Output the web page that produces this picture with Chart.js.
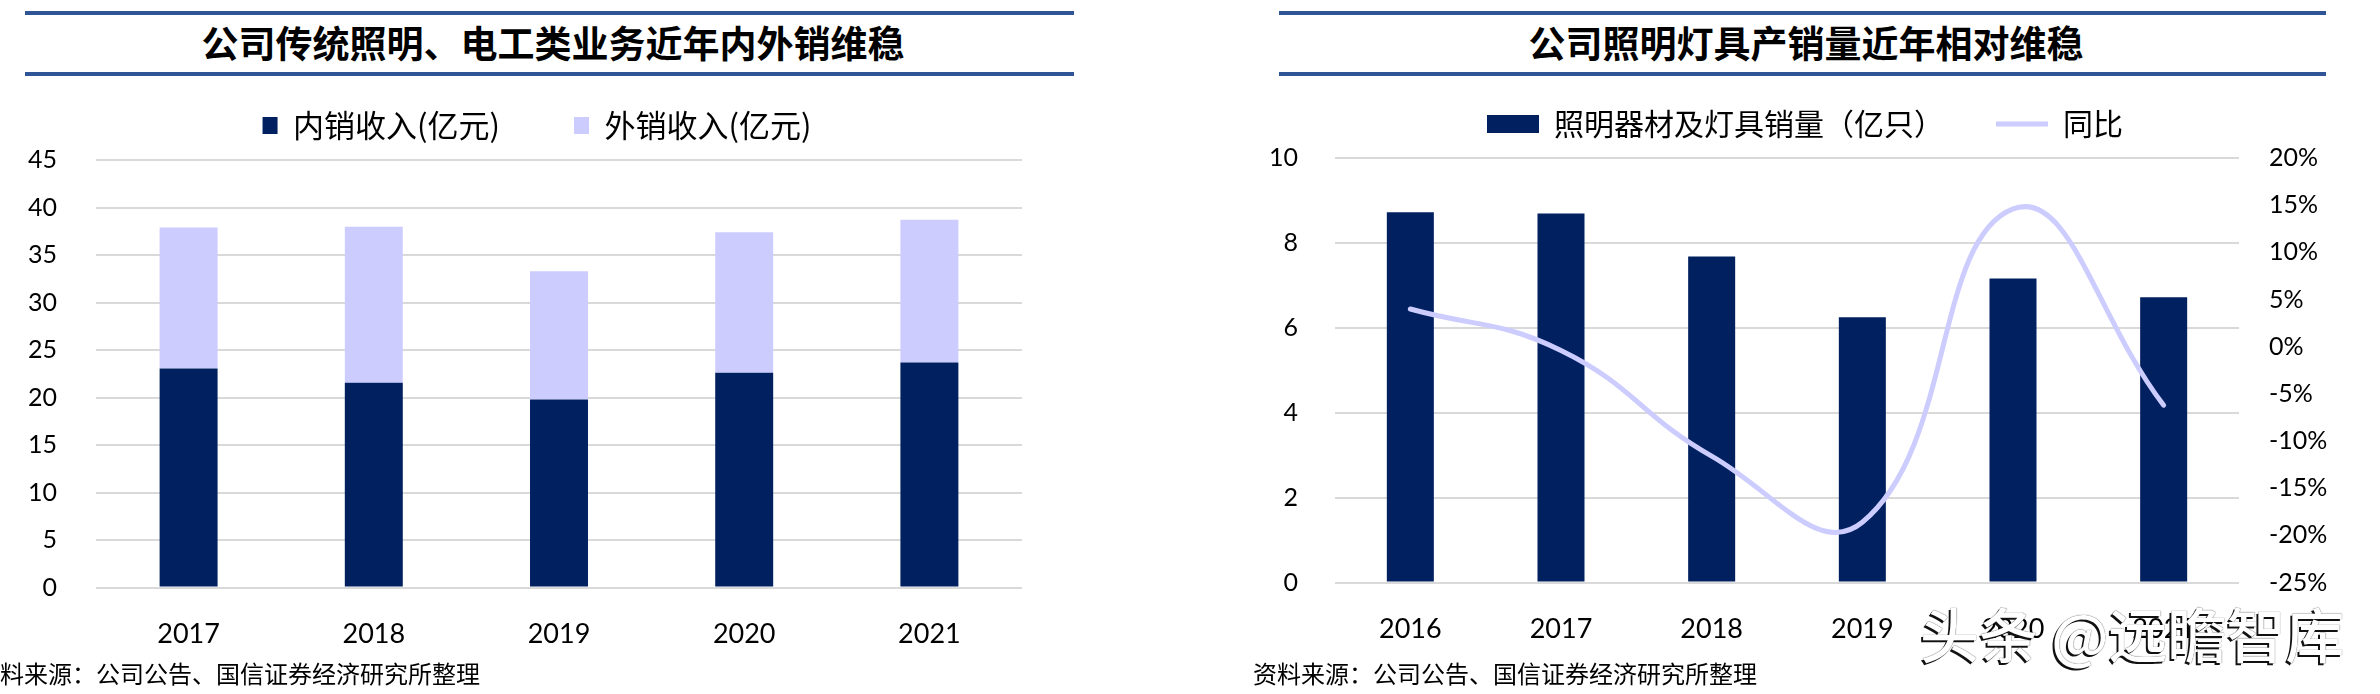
<!DOCTYPE html>
<html>
<head>
<meta charset="utf-8">
<script src="https://cdn.jsdelivr.net/npm/chart.js@4/dist/chart.umd.min.js"></script>
<style>
  body { margin: 0; width: 2380px; height: 694px; background: #fff; position: relative; overflow: hidden; font-family: "Noto Sans CJK SC", sans-serif; }
  .rule { position: absolute; height: 4px; background: #2F5597; }
  .title { position: absolute; top: 15px; font-size: 37px; font-weight: bold; color: #000; white-space: nowrap; transform: translateX(-50%); }
  .src { position: absolute; font-size: 24px; color: #000; white-space: nowrap; }
  .box { position: absolute; }
  .mark { position: absolute; left: 1920px; top: 590px; font-size: 59px; font-weight: 500; color: #fff; text-shadow: -2px 2px 0 #111, 0 0 1px #111; white-space: nowrap; }
</style>
</head>
<body>
<div class="rule" style="left:25px;width:1049px;top:11px"></div>
<div class="rule" style="left:25px;width:1049px;top:72px"></div>
<div class="title" style="left:553px">公司传统照明、电工类业务近年内外销维稳</div>
<div class="rule" style="left:1279px;width:1047px;top:11px"></div>
<div class="rule" style="left:1279px;width:1047px;top:72px"></div>
<div class="title" style="left:1806px">公司照明灯具产销量近年相对维稳</div>

<div class="box" style="left:0;top:36px;width:1080px;height:656px"><canvas id="left-chart"></canvas></div>
<div class="box" style="left:1230px;top:57px;width:1150px;height:635px"><canvas id="right-chart"></canvas></div>

<div class="src" style="left:-24px;top:655px">资料来源：公司公告、国信证券经济研究所整理</div>
<div class="src" style="left:1253px;top:655px">资料来源：公司公告、国信证券经济研究所整理</div>
<div class="mark">头条 @远瞻智库</div>

<script>
// 左图：内外销收入（亿元）
var years1 = ['2017', '2018', '2019', '2020', '2021'];
var domestic = [23.05, 21.57, 19.8, 22.6, 23.7];
var exportSales = [14.85, 16.4, 13.5, 14.8, 15.0];
var ticks1 = [0, 5, 10, 15, 20, 25, 30, 35, 40, 45];

// 右图：照明器材及灯具销量（亿只）与同比
var years2 = ['2016', '2017', '2018', '2019', '2020', '2021'];
var volume = [8.72, 8.69, 7.68, 6.25, 7.16, 6.72];
var yoy = [4.0, -0.4, -11.6, -18.6, 14.6, -6.2];

var navy = '#002060';
var lilac = '#CCCCFF';
var gridColor = '#D9D9D9';
var tickFont = { family: 'Lato', size: 25 };
var xFont = { family: 'Lato', size: 27 };

Chart.defaults.color = '#000';
Chart.defaults.animation = false;

// legend padding also pads vertically; add room under the legend and allow a sideways nudge
var legendGap = {
  id: 'legendGap',
  beforeLayout: function (chart, args, opts) {
    var lg = chart.legend;
    if (lg && !lg._gapPatched) {
      var fit = lg.fit;
      var draw = lg.draw;
      lg.fit = function () { fit.call(this); this.height += opts.extra || 0; };
      lg.draw = function () {
        var ctx = this.ctx;
        ctx.save();
        ctx.translate(opts.dx || 0, 0);
        draw.call(this);
        ctx.restore();
      };
      lg._gapPatched = true;
    }
  }
};

new Chart(document.getElementById('left-chart').getContext('2d'), {
  type: 'bar',
  plugins: [legendGap],
  data: {
    labels: years1,
    datasets: [{
      label: '内销收入(亿元)',
      data: domestic,
      backgroundColor: navy
    }, {
      label: '外销收入(亿元)',
      data: exportSales,
      backgroundColor: lilac
    }]
  },
  options: {
    responsive: true,
    maintainAspectRatio: false,
    layout: { padding: { right: 58, bottom: 20 } },
    datasets: { bar: { categoryPercentage: 1, barPercentage: 0.313 } },
    plugins: {
      tooltip: { enabled: false },
      legendGap: { extra: 9, dx: 26 },
      legend: {
        position: 'top',
        labels: { font: { family: 'Noto Sans CJK SC', size: 31 }, boxWidth: 15, boxHeight: 17, padding: 74 }
      }
    },
    scales: {
      x: {
        stacked: true,
        grid: { display: false },
        border: { display: false },
        ticks: { font: xFont, padding: 22 }
      },
      y: {
        stacked: true,
        min: 0, max: 45,
        afterBuildTicks: function (axis) { axis.ticks = ticks1.map(function (v) { return { value: v }; }); },
        afterFit: function (axis) { axis.width = 96; },
        grid: { color: gridColor, lineWidth: 2, drawTicks: false },
        border: { display: false },
        ticks: { font: tickFont, padding: 39 }
      }
    }
  }
});

new Chart(document.getElementById('right-chart').getContext('2d'), {
  type: 'bar',
  plugins: [legendGap],
  data: {
    labels: years2,
    datasets: [{
      type: 'line',
      label: '同比',
      data: yoy,
      yAxisID: 'y1',
      borderColor: lilac,
      backgroundColor: lilac,
      borderWidth: 5,
      borderCapStyle: 'round',
      tension: 0.45,
      pointRadius: 0,
      pointStyle: 'line',
      order: 0
    }, {
      label: '照明器材及灯具销量（亿只）',
      data: volume,
      yAxisID: 'y',
      backgroundColor: navy,
      pointStyle: 'rect',
      categoryPercentage: 1,
      barPercentage: 0.312,
      order: 1
    }]
  },
  options: {
    responsive: true,
    maintainAspectRatio: false,
    layout: { padding: { bottom: 25 } },
    plugins: {
      tooltip: { enabled: false },
      legendGap: { extra: 9, dx: 0 },
      legend: {
        position: 'top',
        reverse: true,
        labels: { font: { family: 'Noto Sans CJK SC', size: 30 }, usePointStyle: true, pointStyleWidth: 52, boxHeight: 18, padding: 52 }
      }
    },
    scales: {
      x: {
        grid: { display: false },
        border: { display: false },
        ticks: { font: xFont, padding: 22 }
      },
      y: {
        position: 'left',
        min: 0, max: 10,
        ticks: { stepSize: 2, font: tickFont, padding: 37 },
        afterFit: function (axis) { axis.width = 105; },
        grid: { color: gridColor, lineWidth: 2, drawTicks: false },
        border: { display: false }
      },
      y1: {
        position: 'right',
        min: -25, max: 20,
        ticks: { stepSize: 5, font: tickFont, padding: 30, callback: function (v) { return v + '%'; } },
        afterFit: function (axis) { axis.width = 141; },
        grid: { display: false, drawTicks: false },
        border: { display: false }
      }
    }
  }
});
</script>
</body>
</html>
